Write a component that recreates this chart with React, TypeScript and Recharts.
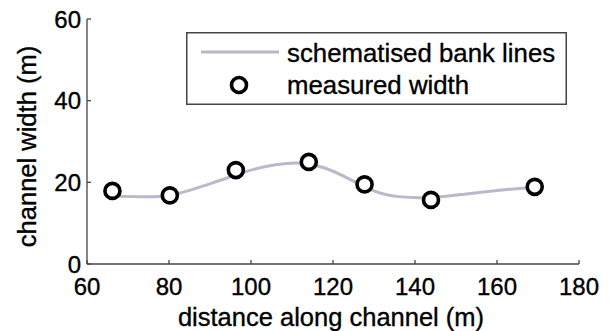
import { ComposedChart, Line, Scatter, XAxis, YAxis, Legend } from 'recharts';

// schematised bank line
const bankDistance = [66, 72, 80, 88, 94, 100, 106, 112, 118, 124, 130, 136, 144, 152, 160, 169];
const bankWidth = [16.6, 16.5, 16.8, 19.0, 21.0, 23.0, 24.3, 24.7, 23.5, 20.8, 17.9, 16.5, 16.3, 17.1, 18.0, 18.8];

// measured widths (circles)
const measuredDistance = [66.2, 80.2, 96.3, 114.1, 127.7, 143.9, 169.2];
const measuredWidth = [17.9, 16.8, 23.0, 25.0, 19.5, 15.7, 18.9];

const xTicks = [60, 80, 100, 120, 140, 160, 180];
const yTicks = [0, 20, 40, 60];

const bankData = bankDistance.map((x, i) => ({ x, w: bankWidth[i] }));
const measuredData = measuredDistance.map((x, i) => ({ x, w: measuredWidth[i] }));

const FONT = '"Liberation Sans", Arial, Helvetica, sans-serif';
const AXIS = '#444';
const LINE = '#b9b9cc';
const TICK_LEN = 4;
const textStyle = { stroke: '#000', strokeWidth: 0.35 };

const BottomTick = (props: any) => {
  const { x, y, payload } = props;
  return (
    <g>
      <line x1={x} y1={y} x2={x} y2={y - TICK_LEN} stroke={AXIS} strokeWidth={1.3} />
      <text x={x} y={y + 31} textAnchor="middle" fontFamily={FONT} fontSize={24} fill="#000" style={textStyle}>
        {payload.value}
      </text>
    </g>
  );
};

const TopTick = (props: any) => {
  const { x, y } = props;
  return <line x1={x} y1={y} x2={x} y2={y + TICK_LEN} stroke={AXIS} strokeWidth={1.3} />;
};

const LeftTick = (props: any) => {
  const { x, y, payload } = props;
  return (
    <g>
      <line x1={x} y1={y} x2={x + TICK_LEN} y2={y} stroke={AXIS} strokeWidth={1.3} />
      <text x={x - 6} y={y + 8.5} textAnchor="end" fontFamily={FONT} fontSize={24} fill="#000" style={textStyle}>
        {payload.value}
      </text>
    </g>
  );
};

const RightTick = (props: any) => {
  const { x, y } = props;
  return <line x1={x} y1={y} x2={x - TICK_LEN} y2={y} stroke={AXIS} strokeWidth={1.3} />;
};

const MeasuredDot = (props: any) => (
  <circle cx={props.cx} cy={props.cy} r={7.5} fill="#fff" stroke="#000" strokeWidth={3.6} />
);

const LegendBox = () => (
  <svg width={381} height={73}>
    <rect x={0.75} y={0.75} width={379.5} height={71.5} fill="#fff" stroke={AXIS} strokeWidth={1.5} />
    <line x1={15} y1={20} x2={93} y2={20} stroke={LINE} strokeWidth={3} />
    <circle cx={53} cy={53} r={7.5} fill="#fff" stroke="#000" strokeWidth={3.6} />
    <text x={101} y={30} fontFamily={FONT} fontSize={25.8} fill="#000" style={textStyle}>
      schematised bank lines
    </text>
    <text x={101} y={62} fontFamily={FONT} fontSize={25.8} fill="#000" style={textStyle}>
      measured width
    </text>
  </svg>
);

const XLabel = (props: any) => {
  const vb = props.viewBox;
  return (
    <text
      x={vb.x + vb.width / 2 - 2}
      y={vb.y + 62}
      textAnchor="middle"
      fontFamily={FONT}
      fontSize={25.5}
      fill="#000"
      style={textStyle}
    >
      distance along channel (m)
    </text>
  );
};

const YLabel = (props: any) => {
  const vb = props.viewBox;
  const cx = 27;
  const cy = vb.y + vb.height / 2 + 5;
  return (
    <text
      x={cx}
      y={cy}
      transform={`rotate(-90, ${cx}, ${cy})`}
      textAnchor="middle"
      dominantBaseline="central"
      fontFamily={FONT}
      fontSize={25.5}
      fill="#000"
      style={textStyle}
    >
      channel width (m)
    </text>
  );
};

export default function App() {
  return (
    <div style={{ position: 'absolute', left: 0, top: 0, background: '#fff' }}>
      <ComposedChart width={612} height={331} margin={{ top: 19, right: 33, bottom: 0, left: 0 }}>
        <XAxis
          xAxisId="bottom"
          type="number"
          dataKey="x"
          domain={[60, 180]}
          ticks={xTicks}
          orientation="bottom"
          height={67}
          tickSize={0}
          tickMargin={0}
          tickLine={false}
          axisLine={{ stroke: AXIS, strokeWidth: 1.3 }}
          tick={<BottomTick />}
          interval={0}
          label={{ content: <XLabel /> }}
        />
        <XAxis
          xAxisId="top"
          type="number"
          dataKey="x"
          domain={[60, 180]}
          ticks={xTicks.slice(1, -1)}
          orientation="top"
          height={0}
          tickSize={0}
          tickMargin={0}
          tickLine={false}
          axisLine={{ stroke: AXIS, strokeWidth: 1.3 }}
          tick={<TopTick />}
          interval={0}
        />
        <YAxis
          yAxisId="left"
          type="number"
          domain={[0, 60]}
          ticks={yTicks}
          width={87}
          tickSize={0}
          tickMargin={0}
          tickLine={false}
          axisLine={{ stroke: AXIS, strokeWidth: 1.3 }}
          tick={<LeftTick />}
          interval={0}
          label={{ content: <YLabel /> }}
        />
        <YAxis
          yAxisId="right"
          type="number"
          domain={[0, 60]}
          ticks={yTicks.slice(1, -1)}
          orientation="right"
          width={0}
          tickSize={0}
          tickMargin={0}
          tickLine={false}
          axisLine={{ stroke: AXIS, strokeWidth: 1.3 }}
          tick={<RightTick />}
          interval={0}
        />
        <Line
          xAxisId="bottom"
          yAxisId="left"
          data={bankData}
          dataKey="w"
          type="natural"
          stroke={LINE}
          strokeWidth={3}
          dot={false}
          isAnimationActive={false}
        />
        <Scatter
          xAxisId="bottom"
          yAxisId="left"
          data={measuredData}
          dataKey="w"
          shape={<MeasuredDot />}
          isAnimationActive={false}
        />
        <Legend
          layout="horizontal"
          verticalAlign="middle"
          align="center"
          wrapperStyle={{ position: 'absolute', left: 186, top: 32, width: 381, height: 73 }}
          content={<LegendBox />}
        />
      </ComposedChart>
    </div>
  );
}
